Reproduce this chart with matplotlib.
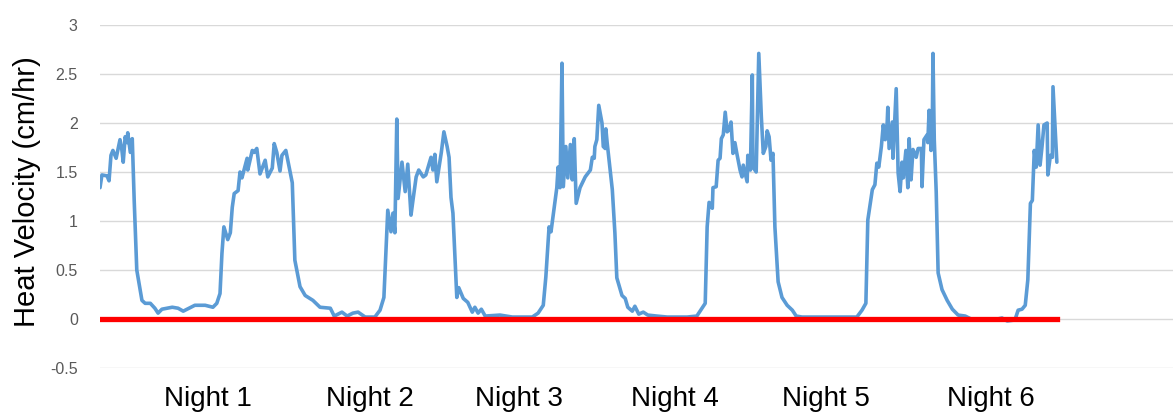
import matplotlib.pyplot as plt

# heat velocity readings over six days/nights (hours from start, cm/hr)
hours = [0.0, 0.3, 1.1, 1.4, 1.7, 2.0, 2.5, 3.1, 3.4, 3.6, 3.9, 4.2, 4.3, 4.7, 5.0,
         5.3, 5.7, 6.5, 7.0, 7.8, 8.5, 9.0, 9.6, 11.2, 12.1, 12.9, 14.7, 16.3, 17.5,
         18.1, 18.6, 18.9, 19.2, 19.8, 20.2, 20.5, 20.8, 21.4, 21.7, 22.0, 22.8, 22.9,
         23.6, 23.9, 24.3, 24.8, 25.6, 26.0, 26.7, 27.0, 27.4, 27.9, 28.2, 28.8, 29.1,
         29.8, 30.2, 31.0, 31.8, 33.0, 34.1, 35.7, 36.3, 37.5, 38.3, 39.2, 40.0, 41.1,
         42.6, 43.4, 44.0, 44.6, 45.1, 45.4, 45.7, 46.0, 46.2, 46.8, 47.3, 47.7, 48.2,
         48.5, 49.0, 49.4, 50.1, 50.5, 51.3, 51.6, 51.9, 52.2, 52.9, 53.3, 53.8, 54.1,
         54.4, 54.7, 55.3, 55.6, 56.3, 57.0, 57.7, 58.1, 58.6, 59.1, 59.7, 62.0, 63.9,
         67.0, 67.9, 68.7, 69.1, 69.6, 69.9, 70.4, 70.8, 71.0, 71.3, 71.6, 71.8, 72.2,
         72.5, 72.9, 73.2, 73.5, 73.8, 74.4, 75.2, 76.0, 76.3, 76.6, 76.7, 77.0, 77.3,
         77.8, 78.0, 78.3, 78.4, 78.6, 79.4, 79.8, 80.1, 80.9, 81.4, 81.8, 82.5, 82.9,
         83.5, 84.2, 84.9, 86.3, 87.9, 91.0, 92.5, 93.3, 93.8, 94.1, 94.4, 94.9, 95.0,
         95.5, 95.8, 96.1, 96.3, 96.6, 96.9, 97.2, 97.5, 97.8, 98.1, 98.4, 98.7, 99.2,
         99.5, 99.7, 100.3, 100.4, 100.8, 101.1, 101.2, 101.7, 102.1, 102.5, 102.8,
         103.2, 103.4, 103.7, 104.0, 104.3, 104.6, 105.1, 105.7, 106.5, 107.3, 107.9,
         108.8, 113.9, 117.3, 118.1, 118.7, 119.0, 119.7, 120.1, 120.4, 120.7, 121.1,
         121.4, 121.7, 122.0, 122.1, 122.3, 122.8, 122.9, 123.4, 123.7, 124.0, 124.3,
         124.5, 124.9, 125.2, 125.4, 125.7, 126.0, 126.5, 126.8, 127.3, 127.4, 127.7,
         128.2, 128.3, 128.5, 128.8, 129.0, 129.1, 129.3, 129.6, 129.9, 130.5, 131.3,
         132.1, 133.0, 134.1, 135.3, 136.7, 138.4, 139.8, 140.6, 141.8, 142.3, 142.9,
         143.4, 143.8, 144.2, 144.5, 144.8, 145.1, 145.4, 145.7, 146.0, 146.3, 146.8,
         146.9, 147.3, 147.6, 147.7, 148.3]
velocity = [1.34, 1.47, 1.46, 1.41, 1.67, 1.72, 1.64, 1.83, 1.72, 1.60, 1.86, 1.80, 1.90, 1.70, 1.84,
            1.21, 0.50, 0.19, 0.16, 0.16, 0.11, 0.06, 0.10, 0.12, 0.11, 0.08, 0.14, 0.14, 0.12,
            0.16, 0.26, 0.67, 0.94, 0.81, 0.88, 1.14, 1.28, 1.31, 1.50, 1.44, 1.64, 1.52,
            1.72, 1.70, 1.74, 1.48, 1.62, 1.45, 1.54, 1.79, 1.70, 1.51, 1.67, 1.72, 1.62,
            1.39, 0.60, 0.33, 0.24, 0.19, 0.12, 0.11, 0.03, 0.07, 0.03, 0.06, 0.07, 0.02,
            0.02, 0.09, 0.22, 1.11, 0.89, 1.08, 0.88, 2.04, 1.23, 1.60, 1.30, 1.58, 1.06,
            1.21, 1.45, 1.52, 1.45, 1.47, 1.65, 1.52, 1.68, 1.40, 1.70, 1.91, 1.76, 1.65,
            1.24, 1.08, 0.22, 0.32, 0.21, 0.17, 0.07, 0.12, 0.06, 0.10, 0.03, 0.04, 0.02,
            0.02, 0.06, 0.14, 0.43, 0.94, 0.89, 1.14, 1.34, 1.55, 1.34, 2.61, 1.35, 1.76,
            1.44, 1.78, 1.42, 1.84, 1.18, 1.34, 1.45, 1.52, 1.65, 1.64, 1.76, 1.83, 2.18,
            2.00, 1.76, 1.74, 1.94, 1.80, 1.32, 0.88, 0.42, 0.24, 0.21, 0.12, 0.08, 0.13,
            0.05, 0.07, 0.04, 0.03, 0.02, 0.02, 0.03, 0.11, 0.16, 0.94, 1.19, 1.13, 1.34,
            1.35, 1.62, 1.64, 1.84, 1.88, 2.11, 1.91, 1.93, 2.01, 1.69, 1.80, 1.69, 1.52,
            1.45, 1.57, 1.40, 1.67, 1.52, 2.49, 1.55, 1.50, 2.71, 2.06, 1.69,
            1.76, 1.92, 1.86, 1.62, 1.69, 0.94, 0.38, 0.22, 0.14, 0.09, 0.03,
            0.02, 0.02, 0.02, 0.09, 0.16, 1.01, 1.32, 1.37, 1.59, 1.55, 1.76,
            1.98, 1.83, 2.00, 2.16, 1.74, 2.01, 1.64, 2.35, 1.49, 1.30, 1.60,
            1.44, 1.72, 1.34, 1.84, 1.42, 1.73, 1.65, 1.74, 1.74, 1.35, 1.83,
            1.88, 1.80, 2.13, 1.72, 2.00, 2.71, 1.83, 1.30, 0.47, 0.30, 0.19,
            0.10, 0.04, 0.03, -0.01, 0.00, -0.01, 0.01, -0.02, -0.01, 0.09, 0.10,
            0.14, 0.40, 1.18, 1.21, 1.72, 1.55, 1.98, 1.57, 1.76, 1.98, 2.00,
            1.47, 1.67, 1.65, 2.37, 1.60]

night_pos = [16.7, 41.9, 64.9, 89.1, 112.5, 138.1]
night_labels = ["Night 1", "Night 2", "Night 3", "Night 4", "Night 5", "Night 6"]
yticks = [-0.5, 0, 0.5, 1, 1.5, 2, 2.5, 3]

plt.rcParams['font.family'] = ['Liberation Sans', 'DejaVu Sans']

fig = plt.figure(figsize=(11.73, 4.16), dpi=100)
ax = fig.add_axes([100 / 1173, 1 - 368 / 416, 1 - 100 / 1173, (368 - 25) / 416])

ax.plot(hours, velocity, color='#5B9BD5', linewidth=2.6, solid_joinstyle='round',
        solid_capstyle='round', zorder=2)
ax.plot([hours[0], hours[-1]], [0, 0], color='#FF0000', linewidth=3.8,
        solid_capstyle='projecting', zorder=3)

ax.set_xlim(0, 166.3)
ax.set_ylim(-0.5, 3)
ax.set_yticks(yticks)
ax.set_yticklabels([f"{v:g}" for v in yticks])
ax.yaxis.grid(True, color='#D9D9D9', linewidth=1.0)
ax.set_axisbelow(True)
ax.set_xticks(night_pos)
ax.set_xticklabels(night_labels, fontsize=20)
ax.tick_params(axis='x', length=0, pad=13)
ax.tick_params(axis='y', length=0, pad=16, labelsize=11.5, labelcolor='#595959')
for s in ax.spines.values():
    s.set_visible(False)

fig.text(27 / 1173, 1 - 192 / 416, "Heat Velocity (cm/hr)", rotation=90,
         ha='center', va='center', fontsize=21)

fig.savefig("out.png", dpi=100)
